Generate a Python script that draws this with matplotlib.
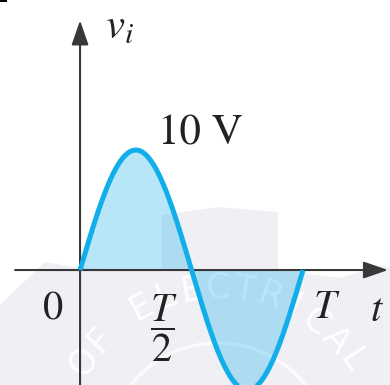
import numpy as np
import matplotlib.pyplot as plt
from matplotlib.patches import Polygon, Circle, FancyArrowPatch, Rectangle

plt.rcParams['mathtext.fontset'] = 'stix'
plt.rcParams['font.family'] = ['STIXGeneral', 'DejaVu Sans']

# input signal: one period of a sine wave
AMPLITUDE = 10.0        # volts
PERIOD = 1.0            # T
peak_label = "10 V"

# time-axis labels and where they sit (in units of T)
tick_labels = ["0", r"$\dfrac{T}{2}$", "$T$"]
tick_t = [-0.121, 0.377, 1.108]
tick_v = [-4.15, -4.83, -4.0]
tick_va = ["baseline", "center", "baseline"]

axis_color = "#383838"
wave_color = "#12aeea"
fill_color = "#15aeee"
mark_grey = "#efeff4"

fig = plt.figure(figsize=(3.9, 3.85), dpi=100)

# background emblem, drawn in pixel units
bg = fig.add_axes([0, 0, 1, 1], zorder=0)
bg.set_xlim(0, 390)
bg.set_ylim(385, 0)
bg.axis("off")
emblem = [(0, 305), (45, 262), (80, 268), (162, 270), (162, 215), (218, 207),
          (278, 212), (278, 270), (340, 278), (383, 265), (390, 268),
          (390, 385), (0, 385)]
bg.add_patch(Polygon(emblem, closed=True, fc=mark_grey, ec="none"))
bg.add_patch(Circle((218, 455), 112, fc="none", ec="white", lw=2.5, alpha=0.8))
bg.add_patch(Rectangle((0, 0), 7, 2, fc="black", ec="none"))

# emblem lettering laid along an arc
word = "OF ELECTRICAL"
angles = np.linspace(147, 33, len(word))
for ch, a in zip(word, angles):
    if ch == " ":
        continue
    r = np.deg2rad(a)
    bg.text(218 + 160 * np.cos(r), 448 - 160 * np.sin(r), ch, fontsize=25,
            family="DejaVu Sans", color="white", alpha=0.95,
            rotation=a - 90, ha="center", va="center", rotation_mode="anchor")

# main drawing
ax = fig.add_axes([0, 0, 1, 1], zorder=1)
ax.patch.set_alpha(0)
ax.set_xlim(-0.359, 1.390)
ax.set_ylim(-9.58, 22.5)
ax.axis("off")

t = np.linspace(0, PERIOD, 500)
v = AMPLITUDE * np.sin(2 * np.pi * t / PERIOD)
ax.fill_between(t, v, 0, color=fill_color, alpha=0.30, lw=0, zorder=1)
ax.plot(t, v, color=wave_color, lw=3.6, solid_capstyle="butt", zorder=3)

# axes with arrow heads
arrow_style = "-|>,head_length=15,head_width=5.2"
ax.add_patch(FancyArrowPatch((-0.291, 0), (1.381, 0), arrowstyle=arrow_style,
                             mutation_scale=1, lw=1.5, color=axis_color,
                             shrinkA=0, shrinkB=0, zorder=2))
ax.add_patch(FancyArrowPatch((0, -9.8), (0, 20.8), arrowstyle=arrow_style,
                             mutation_scale=1, lw=1.5, color=axis_color,
                             shrinkA=0, shrinkB=0, zorder=2))

# labels
ax.text(0.112, 19.3, "$v_i$", fontsize=31, color="#222222", ha="left", va="baseline")
ax.text(0.538, 10.42, peak_label, fontsize=31, color="#222222", ha="center", va="baseline")
for lab, tx, vy, va in zip(tick_labels, tick_t, tick_v, tick_va):
    ax.text(tx, vy, lab, fontsize=29, color="#222222", ha="center", va=va)
ax.text(1.332, -4.25, "$t$", fontsize=29, color="#222222", ha="center", va="baseline")

fig.savefig("out.png", dpi=100)
